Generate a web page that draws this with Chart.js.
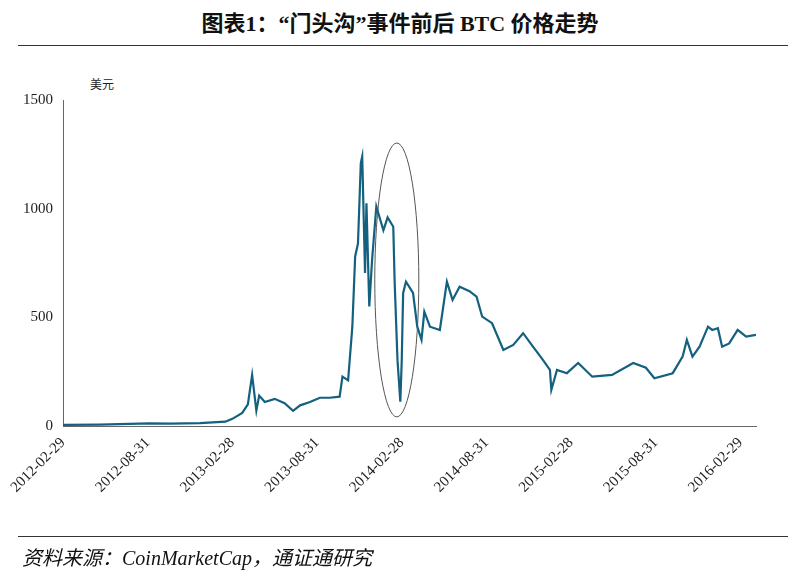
<!DOCTYPE html>
<html>
<head>
<meta charset="utf-8">
<script src="https://cdn.jsdelivr.net/npm/chart.js@4/dist/chart.umd.min.js"></script>
<style>
  body { margin: 0; background: #fff; }
  #wrap { position: relative; width: 800px; height: 584px; }
  #title { position: absolute; top: 5px; left: 0; width: 800px; text-align: center;
           font: bold 22px "Liberation Serif", "Noto Sans CJK SC", serif; color: #111; }
  #rule1 { position: absolute; top: 45px; left: 18px; width: 770px; border-top: 1px solid #333; }
  #rule2 { position: absolute; top: 536px; left: 18px; width: 770px; border-top: 1px solid #333; }
  #source { position: absolute; top: 542px; left: 22px;
            font: italic 20px "Liberation Serif", "Noto Sans CJK SC", serif; color: #111; }
  #unit { position: absolute; top: 75px; left: 90px; font: 12px "Noto Sans CJK SC", serif; color: #222; }
  canvas { position: absolute; top: 0; left: 0; }
</style>
</head>
<body>
<div id="wrap">
  <div id="title">图表1：“门头沟”事件前后 BTC 价格走势</div>
  <div id="rule1"></div>
  <div id="unit">美元</div>
  <canvas id="btcChart" width="800" height="584"></canvas>
  <div id="rule2"></div>
  <div id="source">资料来源：CoinMarketCap，通证通研究</div>
</div>
<script>
// Months since 2012-02-29
const months = [0, 2.6, 6.1, 7.6, 9.7, 11.5, 12, 12.7, 13.1, 13.4, 13.7, 13.9, 14.3, 15, 15.7, 16.3, 16.8, 17.5, 18.2, 18.9,
    19.6, 19.8, 20.2, 20.5, 20.7, 20.9, 21.1, 21.2, 21.4, 21.5, 21.7, 21.9, 22.2, 22.7, 23, 23.4, 23.5, 23.7, 23.9, 24,
    24.1, 24.3, 24.8, 25.1, 25.4, 25.6, 26, 26.7, 27.2, 27.6, 28.1, 28.8, 29.3, 29.7, 30.4, 31.2, 31.9, 32.6, 33.3, 34,
    34.5, 34.6, 35, 35.7, 36.5, 37.5, 38.9, 40.4, 41.3, 41.9, 43.2, 43.9, 44.2, 44.6, 45.1, 45.7, 46, 46.4, 46.7, 47.2,
    47.8, 48.4, 49.1];
// BTC price, USD
const prices = [5, 6, 12, 11, 13, 20, 33, 60, 100, 235, 70, 140, 110, 125, 105, 70, 95, 110, 130, 130,
    135, 227, 210, 457, 780, 840, 1210, 1240, 704, 1025, 550, 765, 1010, 900, 960, 917, 658, 303, 112, 300,
    612, 664, 612, 457, 396, 526, 457, 442, 664, 580, 641, 620, 595, 503, 473, 350, 373, 427, 365, 304,
    258, 166, 258, 243, 290, 227, 235, 290, 268, 220, 243, 319, 396, 319, 365, 457, 442, 450, 365, 380,
    442, 411, 419];
const tickMonths = [0, 6, 12, 18, 24, 30, 36, 42, 48];
const tickLabels = ['2012-02-29', '2012-08-31', '2013-02-28', '2013-08-31', '2014-02-28',
    '2014-08-31', '2015-02-28', '2015-08-31', '2016-02-29'];
const yTicks = [0, 500, 1000, 1500];

const points = months.map((m, i) => ({ x: m, y: prices[i] }));

// 椭圆标注 "门头沟" 事件
const ellipsePlugin = {
    id: 'ellipse',
    afterDatasetsDraw(chart) {
        const { ctx, scales: { x, y } } = chart;
        const cx = x.getPixelForValue(23.65), cy = y.getPixelForValue(672);
        const rx = x.getPixelForValue(23.65 + 1.56) - cx;
        const ry = cy - y.getPixelForValue(672 + 630);
        ctx.save();
        ctx.beginPath();
        ctx.ellipse(cx, cy, rx, ry, 0, 0, Math.PI * 2);
        ctx.strokeStyle = '#555';
        ctx.lineWidth = 1;
        ctx.stroke();
        ctx.restore();
    }
};

new Chart(document.getElementById('btcChart'), {
    type: 'line',
    data: {
        datasets: [{
            data: points,
            borderColor: '#13607f',
            borderWidth: 2.2,
            pointRadius: 0,
            tension: 0
        }]
    },
    options: {
        responsive: false,
        animation: false,
        layout: { padding: { top: 100, right: 44, left: 0, bottom: 0 } },
        plugins: { legend: { display: false }, tooltip: { enabled: false } },
        scales: {
            x: {
                type: 'linear',
                min: 0,
                max: 49.1,
                afterFit(axis) { axis.height = 158; },
                afterBuildTicks(axis) { axis.ticks = tickMonths.map(v => ({ value: v })); },
                grid: { display: false, drawTicks: true, tickLength: 5, tickColor: '#666' },
                border: { color: '#666' },
                ticks: {
                    maxRotation: 45, minRotation: 45,
                    font: { family: 'Liberation Serif', size: 15 }, color: '#222',
                    callback: (v) => tickLabels[tickMonths.indexOf(v)]
                }
            },
            y: {
                min: 0,
                max: 1500,
                afterFit(axis) { axis.width = 63; },
                afterBuildTicks(axis) { axis.ticks = yTicks.map(v => ({ value: v })); },
                grid: { display: false, drawTicks: true, tickLength: 4, tickColor: '#666' },
                border: { color: '#666' },
                ticks: {
                    font: { family: 'Liberation Serif', size: 15 }, color: '#222', padding: 6,
                    callback: (v) => String(v)
                }
            }
        }
    },
    plugins: [ellipsePlugin]
});
</script>
</body>
</html>
